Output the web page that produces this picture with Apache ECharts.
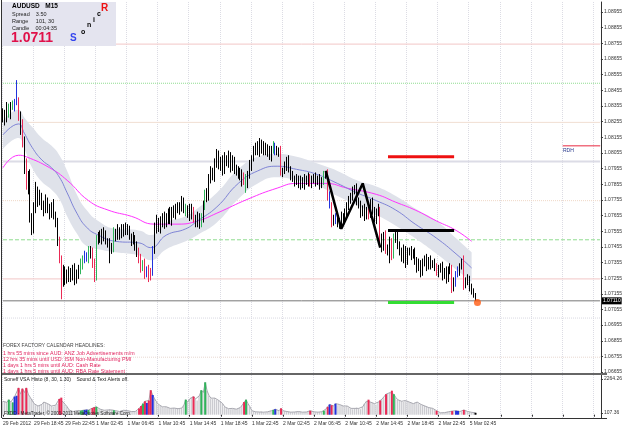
<!DOCTYPE html>
<html>
<head>
<meta charset="utf-8">
<script src="https://cdn.jsdelivr.net/npm/echarts@6/dist/echarts.min.js"></script>
<style>
html,body{margin:0;padding:0;background:#fff}
#main{width:625px;height:429px}
</style>
</head>
<body>
<div id="main"></div>
<script>
// AUDUSD M15 - price bars
var timeLabels = ['29 Feb 2012','29 Feb 18:45','29 Feb 22:45','1 Mar 02:45','1 Mar 06:45','1 Mar 10:45',
    '1 Mar 14:45','1 Mar 18:45','1 Mar 22:45','2 Mar 02:45','2 Mar 06:45','2 Mar 10:45','2 Mar 14:45',
    '2 Mar 18:45','2 Mar 22:45','5 Mar 02:45'];

var firstOpen = 1.0828;
var closes = [
    1.0831,1.0827,1.0834,1.0831,1.0836,1.0835,1.0838,1.0839,1.0829,1.0823,
    1.0813,1.0797,1.0785,1.0791,1.0765,1.0757,1.0769,1.0781,1.0775,1.0778,
    1.0772,1.0769,1.0775,1.0770,1.0767,1.0772,1.0765,1.0762,1.0749,1.0738,
    1.0731,1.0724,1.0729,1.0726,1.0730,1.0727,1.0731,1.0725,1.0729,1.0731,
    1.0735,1.0738,1.0740,1.0738,1.0742,1.0743,1.0735,1.0727,1.0749,1.0753,
    1.0751,1.0755,1.0752,1.0749,1.0748,1.0744,1.0746,1.0755,1.0752,1.0756,
    1.0753,1.0757,1.0755,1.0758,1.0756,1.0752,1.0749,1.0751,1.0746,1.0743,
    1.0738,1.0733,1.0735,1.0729,1.0731,1.0728,1.0730,1.0743,1.0757,1.0761,
    1.0758,1.0763,1.0760,1.0765,1.0762,1.0767,1.0763,1.0769,1.0766,1.0771,
    1.0769,1.0772,1.0775,1.0770,1.0767,1.0770,1.0766,1.0769,1.0763,1.0761,
    1.0765,1.0761,1.0763,1.0772,1.0780,1.0778,1.0788,1.0794,1.0791,1.0799,
    1.0804,1.0797,1.0801,1.0795,1.0802,1.0799,1.0804,1.0797,1.0801,1.0794,
    1.0795,1.0791,1.0793,1.0788,1.0790,1.0786,1.0791,1.0797,1.0802,1.0807,
    1.0810,1.0806,1.0812,1.0807,1.0810,1.0806,1.0808,1.0803,1.0807,1.0810,
    1.0807,1.0806,1.0807,1.0793,1.0794,1.0797,1.0801,1.0795,1.0791,1.0789,
    1.0787,1.0789,1.0785,1.0788,1.0785,1.0789,1.0787,1.0790,1.0786,1.0788,
    1.0790,1.0787,1.0789,1.0785,1.0788,1.0791,1.0793,1.0778,1.0772,1.0761,
    1.0763,1.0765,1.0761,1.0762,1.0765,1.0763,1.0767,1.0772,1.0775,1.0778,
    1.0781,1.0783,1.0775,1.0772,1.0767,1.0770,1.0765,1.0769,1.0766,1.0774,
    1.0769,1.0763,1.0767,1.0769,1.0751,1.0746,1.0753,1.0743,1.0745,1.0749,
    1.0740,1.0751,1.0753,1.0746,1.0743,1.0738,1.0744,1.0737,1.0742,1.0743,
    1.0740,1.0742,1.0737,1.0733,1.0735,1.0730,1.0735,1.0738,1.0733,1.0737,
    1.0734,1.0735,1.0733,1.0729,1.0731,1.0733,1.0727,1.0730,1.0725,1.0731,
    1.0732,1.0719,1.0723,1.0728,1.0730,1.0733,1.0737,1.0721,1.0724,1.0725,
    1.0719,1.0717,1.0715,1.0711
];
// wick lengths in pips above / below the body
var wickUp = [
    3,2,4,3,2,3,2,13,2,3, 4,3,5,3,4,2,5,6,3,4,
    2,3,4,2,3,2,4,3,2,3, 2,3,4,2,3,2,3,4,2,3,
    3,2,3,2,4,3,2,3,4,2, 3,2,3,4,2,3,2,3,2,4,
    2,3,3,3,2,3,2,4,2,3, 2,3,2,3,2,3,2,3,4,5,
    3,2,4,3,2,3,4,2,3,2, 3,2,3,2,3,2,3,4,2,3,
    3,2,4,3,2,3,4,3,2,3, 4,3,2,3,4,2,3,2,3,2,
    3,2,3,2,3,2,3,4,2,3, 2,3,3,2,3,2,3,2,3,3,
    2,3,2,3,2,3,2,3,2,3, 2,3,2,3,2,3,2,3,2,3,
    2,3,2,3,2,3,1,2,3,2, 3,2,3,2,3,2,3,2,3,2,
    3,2,3,2,3,2,3,2,3,2, 3,2,3,4,2,3,2,3,2,3,
    2,3,3,2,3,2,3,2,3,2, 3,2,3,2,3,2,3,2,3,2,
    3,2,3,2,3,2,3,2,3,2, 3,2,3,2,3,2,1,3,2,3, 2,3,2,1
];
var wickDn = [
    3,4,2,3,4,2,3,2,3,6, 4,5,3,6,4,4,3,2,4,3,
    3,4,2,3,4,3,2,4,3,3, 19,4,3,4,3,4,3,4,3,4,
    3,4,3,2,3,4,3,4,3,2, 3,4,3,2,3,9,3,4,3,2,
    3,2,3,2,3,2,3,2,3,4, 3,4,3,4,3,5,4,3,2,3,
    3,4,2,3,4,2,3,4,2,3, 2,3,4,3,2,3,4,3,2,3,
    3,4,3,2,3,4,3,2,3,4, 3,2,3,4,3,2,3,4,3,2,
    3,2,3,4,3,6,3,2,3,2, 3,2,3,2,3,2,3,2,3,2,
    3,2,3,2,3,2,3,2,3,2, 3,2,2,3,2,3,2,3,2,3,
    2,3,2,3,2,3,2,3,2,3, 2,3,3,4,3,2,3,2,3,2,
    3,2,3,2,3,2,3,2,3,2, 3,2,3,2,3,4,3,2,3,10,
    3,2,3,2,3,2,3,5,3,2, 3,2,3,4,3,4,3,2,3,2,
    3,2,3,2,3,2,3,2,3,2, 3,3,2,3,2,3,2,3,2,3, 2,2,2,0
];

// VSA histogram
var volumes = [
    850,820,780,950,800,780,1150,1200,1700,1300,
    1650,1400,1700,1300,1100,1000,700,600,550,600,
    650,800,750,700,650,550,500,600,700,1000,
    1080,800,650,500,300,250,200,150,250,300,
    250,280,300,320,300,350,420,480,500,400,
    350,300,280,250,300,350,300,280,250,220,
    200,250,280,300,260,230,200,180,200,250,
    400,550,700,850,750,900,1550,1250,1000,800,
    650,550,500,450,500,450,400,380,420,400,
    380,360,420,600,950,800,1000,1100,1150,1000,
    900,1200,1550,1400,2050,1500,1200,1050,1000,1050,
    950,900,850,700,500,420,380,350,400,380,
    350,400,450,600,800,950,700,500,250,200,
    180,150,170,200,160,140,180,220,250,300,
    350,300,250,400,250,220,200,180,160,150,
    170,190,200,180,160,150,170,200,250,200,
    180,150,160,170,190,250,350,500,650,600,
    550,700,600,650,600,550,500,550,450,400,
    350,400,450,400,350,500,700,850,950,800,
    750,700,650,800,900,1000,1100,1300,1350,1400,
    1520,1300,1100,950,900,850,800,900,850,800,
    750,700,750,800,700,650,600,550,500,450,
    420,400,350,250,150,120,110,130,150,180,
    200,230,200,250,240,200,220,300,250,200,
    180,150,130,120
];
var volMax = 2264.26, volMin = 107.36;

// bars painted by the VSA indicator
var redBars = [8,10,12,29,30,46,47,70,71,73,75,76,98,124,143,158,167,169,188,194,197,200,223,231,237];
var greenBars = [3,5,40,41,44,48,57,72,94,102,104,125,139,165,201];
var blueBars = [6,7,42,43,74,77,140,168,171,233,234];
var blackBars = [243];

// moving averages and channel: [bar index, price]
var fastMA = [[0,1.0817],[8,1.0824],[11,1.0818],[15,1.0809],[20,1.0801],[25,1.0796],[29,1.0790],[33,1.0780],
    [38,1.0767],[43,1.0758],[49,1.0753],[58,1.0749],[70,1.0748],[76,1.0745],[84,1.0753],[94,1.0757],[100,1.0762],
    [110,1.0771],[121,1.0786],[131,1.0794],[141,1.0797],[151,1.0795],[161,1.0792],[172,1.0786],[182,1.0780],
    [192,1.0775],[202,1.0769],[212,1.0760],[223,1.0751],[233,1.0741],[241,1.0732]];
var bandUpper = [[0,1.0826],[8,1.0833],[11,1.0828],[15,1.0822],[20,1.0815],[25,1.0810],[29,1.0804],[33,1.0794],
    [38,1.0779],[43,1.0769],[49,1.0762],[58,1.0757],[70,1.0756],[76,1.0753],[84,1.0761],[94,1.0765],[100,1.0770],
    [110,1.0780],[121,1.0795],[131,1.0803],[141,1.0805],[151,1.0803],[161,1.0799],[172,1.0794],[182,1.0788],
    [192,1.0784],[202,1.0778],[212,1.0770],[223,1.0762],[233,1.0751],[241,1.0742]];
var bandLower = [[0,1.0808],[8,1.0815],[11,1.0808],[15,1.0796],[20,1.0787],[25,1.0782],[29,1.0776],[33,1.0765],
    [38,1.0754],[43,1.0746],[49,1.0744],[58,1.0742],[70,1.0740],[76,1.0737],[84,1.0744],[94,1.0749],[100,1.0753],
    [110,1.0761],[121,1.0776],[131,1.0786],[141,1.0790],[151,1.0788],[161,1.0785],[172,1.0778],[182,1.0772],
    [192,1.0766],[202,1.0759],[212,1.0751],[223,1.0741],[233,1.0731],[241,1.0723]];
var slowMA = [[0,1.0796],[8,1.0804],[12,1.0803],[24,1.0796],[33,1.0788],[44,1.0775],[54,1.0769],[66,1.0765],
    [78,1.0760],[90,1.0760],[100,1.0762],[110,1.0767],[126,1.0776],[141,1.0783],[151,1.0786],[166,1.0786],
    [177,1.0783],[192,1.0779],[202,1.0774],[212,1.0769],[223,1.0762],[233,1.0756],[241,1.0749]];
var zigzag = [[166,1.0794],[174,1.0757],[185,1.0786],[194,1.0745]];

var roundLevels = [1.0875,1.0850,1.0825,1.0800,1.0775,1.0750,1.0725,1.0700,1.0675];
var priceLabels = [];
for (var p = 0; p < 24; p++) priceLabels.push(+(1.06655 + p * 0.001).toFixed(5));
var lastPrice = 1.0711;
var levelRed = 1.0803, levelBlack = 1.0756, levelGreen = 1.0710;
var levelStart = 198, levelEnd = 232;
var rdhPrice = 1.0810;

var headlines = ['1 hrs 55 mins since AUD: ANZ Job Advertisements m/m',
    '12 hrs 35 mins until USD: ISM Non-Manufacturing PMI',
    '1 days 1 hrs 5 mins until AUD: Cash Rate',
    '1 days 1 hrs 5 mins until AUD: RBA Rate Statement'];

// ---------- build ----------
var nSlots = 308;
var cats = [];
for (var i = 0; i < nSlots; i++) {
    cats.push(i % 16 === 0 && timeLabels[i / 16] ? timeLabels[i / 16] : '');
}
var sig = {};
redBars.forEach(function (k) { sig[k] = '#ea2a55'; });
greenBars.forEach(function (k) { sig[k] = '#2fb45a'; });
blueBars.forEach(function (k) { sig[k] = '#2233dd'; });
blackBars.forEach(function (k) { sig[k] = '#000000'; });

var candleData = [], volGrey = [], volColored = [];
for (i = 0; i < closes.length; i++) {
    var o = i ? closes[i - 1] : firstOpen, c = closes[i];
    var h = Math.max(o, c) + wickUp[i] * 0.0001, l = Math.min(o, c) - wickDn[i] * 0.0001;
    var item = { value: [o, c, l, h] };
    if (sig[i]) item.itemStyle = { color: sig[i], color0: sig[i], borderColor: sig[i], borderColor0: sig[i] };
    candleData.push(item);
    volGrey.push(volumes[i]);
    volColored.push(sig[i] ? { value: volumes[i], itemStyle: { color: sig[i] } } : '-');
}
var bandWidth = bandUpper.map(function (d, k) { return [d[0], d[1] - bandLower[k][1]]; });

var levelStyles = [
    { color: '#f2c6c6', type: 'solid', width: 1 },
    { color: '#8fdc8f', type: 'dotted', width: 1 },
    { color: '#f1ded2', type: 'solid', width: 1 },
    { color: '#dcdce6', type: 'solid', width: 2 },
    { color: '#efd6c6', type: 'dotted', width: 1 },
    { color: '#8fdc8f', type: 'dashed', width: 1 },
    { color: '#f2c6c6', type: 'solid', width: 1 },
    { color: '#d8d8e2', type: 'dotted', width: 1 },
    { color: '#e8d8d0', type: 'dotted', width: 1 }
];

var FONT = 'Liberation Sans';
function txt(x, y, s, size, color, weight) {
    return { type: 'text', left: x, top: y, z: 100, silent: true,
        style: { text: s, fontSize: size, fill: color, fontFamily: FONT, fontWeight: weight || 'normal' } };
}
var graphics = [
    { type: 'rect', shape: { x: 2, y: 2, width: 114, height: 44 }, style: { fill: '#e4e4ef' }, z: 90, silent: true },
    txt(12, 3, 'AUDUSD   M15', 6.5, '#000', 'bold'),
    txt(12, 11, 'Spread    3.50', 5.5, '#222'),
    txt(12, 18, 'Range     101, 30', 5.5, '#222'),
    txt(12, 25, 'Candle    00:04:35', 5.5, '#222'),
    txt(11, 31, '1.0711', 14, '#e0104a', 'bold'),
    txt(70, 33, 'S', 10, '#3344ee', 'bold'),
    txt(81, 29, 'o', 7, '#000', 'bold'),
    txt(87, 22, 'n', 7, '#000', 'bold'),
    txt(93, 17, 'i', 7, '#000', 'bold'),
    txt(97, 11, 'c', 7, '#000', 'bold'),
    txt(101, 3, 'R', 10, '#ee1111', 'bold'),
    txt(3, 343, 'FOREX FACTORY CALENDAR HEADLINES:', 5, '#444')
];
headlines.forEach(function (s, k) { graphics.push(txt(3, 351 + k * 6, s, 5.3, '#e0245e')); });
graphics.push(txt(4, 377, 'Soneff VSA Histo (8, 30, 1.30)    Sound & Text Alerts off.', 5, '#222'));
graphics.push(txt(4, 411, 'FXDD - MetaTrader, \u00a9 2001-2011 MetaQuotes Software Corp.', 4.6, '#222'));
graphics.push({ type: 'line', shape: { x1: 2, y1: 374, x2: 607, y2: 374 }, style: { stroke: '#666', lineWidth: 2 }, z: 95, silent: true });
graphics.push({ type: 'line', shape: { x1: 1.5, y1: 0, x2: 1.5, y2: 418 }, style: { stroke: '#333', lineWidth: 1 }, z: 95, silent: true });
graphics.push({ type: 'line', shape: { x1: 2, y1: 418.5, x2: 607, y2: 418.5 }, style: { stroke: '#333', lineWidth: 1 }, z: 95, silent: true });

var vsplit = { show: true, interval: 15, lineStyle: { color: '#dcdce4', type: 'dotted', width: 1 } };

// horizontal round-number levels and the bid line, as flat two-point lines
var levelSeries = roundLevels.map(function (v, k) {
    return { type: 'line', data: [[0, v], [nSlots - 1, v]], symbol: 'none', silent: true,
             lineStyle: levelStyles[k], z: 0 };
});
levelSeries.push({ type: 'line', data: [[0, lastPrice], [nSlots - 1, lastPrice]], symbol: 'none', silent: true,
    lineStyle: { color: '#777', width: 1 }, z: 2,
    endLabel: { show: true, formatter: lastPrice.toFixed(5), distance: 2, backgroundColor: '#000', color: '#fff',
                fontSize: 5, padding: [1, 1], fontFamily: FONT } });

var chart = echarts.init(document.getElementById('main'));
chart.setOption({
    animation: false,
    backgroundColor: '#fff',
    graphic: graphics,
    grid: [
        { left: 2, top: 2, width: 605, height: 371 },
        { left: 2, top: 375, width: 605, height: 43 }
    ],
    xAxis: [
        { type: 'category', gridIndex: 0, data: cats, boundaryGap: true,
          axisLine: { show: false }, axisTick: { show: false }, axisLabel: { show: false }, splitLine: vsplit },
        { type: 'category', gridIndex: 1, data: cats, boundaryGap: true,
          axisLine: { show: false },
          axisTick: { show: true, interval: 15, alignWithLabel: true, length: 2, lineStyle: { color: '#333' } },
          axisLabel: { show: true, interval: 15, align: 'left', margin: 3, fontSize: 5, color: '#333', fontFamily: FONT },
          splitLine: vsplit }
    ],
    yAxis: [
        { type: 'value', gridIndex: 0, position: 'right', min: 1.06649, max: 1.09019,
          axisLine: { show: true, lineStyle: { color: '#333' } },
          axisTick: { show: true, length: 2, customValues: priceLabels, lineStyle: { color: '#333' } },
          axisLabel: { show: true, customValues: priceLabels, fontSize: 5, color: '#333', margin: 3, fontFamily: FONT,
                       formatter: function (v) { return v.toFixed(5); } },
          splitLine: { show: false } },
        { type: 'value', gridIndex: 1, position: 'right', min: -210, max: 2518,
          axisLine: { show: true, lineStyle: { color: '#333' } },
          axisTick: { show: true, length: 2, customValues: [volMin, volMax], lineStyle: { color: '#333' } },
          axisLabel: { show: true, customValues: [volMin, volMax], fontSize: 5, color: '#333', margin: 3, fontFamily: FONT,
                       formatter: function (v) { return v.toFixed(2); } },
          splitLine: { show: false } }
    ],
    series: levelSeries.concat([
        { type: 'line', name: 'bandLow', data: bandLower, stack: 'band', smooth: true, symbol: 'none',
          lineStyle: { opacity: 0 }, z: 1, silent: true },
        { type: 'line', name: 'band', data: bandWidth, stack: 'band', smooth: true, symbol: 'none',
          lineStyle: { opacity: 0 }, areaStyle: { color: '#dfe2ea', opacity: 1 }, z: 1, silent: true },
        { type: 'line', name: 'slow', data: slowMA, smooth: true, symbol: 'none',
          lineStyle: { color: '#ff33ff', width: 1 }, z: 2, silent: true },
        { type: 'line', name: 'fast', data: fastMA, smooth: true, symbol: 'none',
          lineStyle: { color: '#7f84d6', width: 1 }, z: 2, silent: true },
        { type: 'candlestick', name: 'AUDUSD', data: candleData, barWidth: 1.2, z: 3,
          itemStyle: { color: '#ffffff', color0: '#000000', borderColor: '#000000', borderColor0: '#000000', borderWidth: 1 } },
        { type: 'line', name: 'zigzag', data: zigzag, symbol: 'none', lineStyle: { color: '#000', width: 2.5 }, z: 4 },
        { type: 'line', data: [[levelStart, levelRed], [levelEnd, levelRed]], symbol: 'none', lineStyle: { color: '#ee1111', width: 3 }, z: 4 },
        { type: 'line', data: [[levelStart, levelBlack], [levelEnd, levelBlack]], symbol: 'none', lineStyle: { color: '#000', width: 3 }, z: 4 },
        { type: 'line', data: [[levelStart, levelGreen], [levelEnd, levelGreen]], symbol: 'none', lineStyle: { color: '#33dd33', width: 3 }, z: 4 },
        { type: 'scatter', data: [[244, levelGreen]], symbolSize: 7, itemStyle: { color: '#ff5a10' }, z: 5 },
        { type: 'line', data: [{ value: [288, rdhPrice], label: { show: true, formatter: 'RDH', position: 'bottom', align: 'left',
              distance: 2, fontSize: 5, color: '#223388', fontFamily: FONT } }, [307, rdhPrice]],
          symbol: 'circle', symbolSize: 1, showSymbol: true, itemStyle: { color: '#f07080' },
          lineStyle: { color: '#f07080', width: 1.5 }, z: 4 },
        { type: 'bar', xAxisIndex: 1, yAxisIndex: 1, data: volGrey, barWidth: 1.3, itemStyle: { color: '#cbcbd0' }, z: 1 },
        { type: 'line', xAxisIndex: 1, yAxisIndex: 1, data: volGrey, symbol: 'none', lineStyle: { color: '#a8a8b0', width: 1 }, z: 2 },
        { type: 'bar', xAxisIndex: 1, yAxisIndex: 1, data: volColored, barWidth: 2, barGap: '-100%', z: 3 }
    ])
});
</script>
</body>
</html>
